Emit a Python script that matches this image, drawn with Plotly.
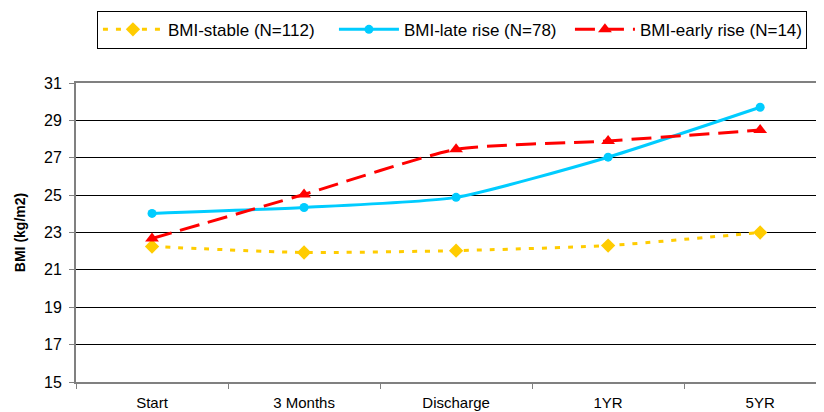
import plotly.graph_objects as go

categories = ["Start", "3 Months", "Discharge", "1YR", "5YR"]
stable = [22.25, 21.93, 22.03, 22.3, 23.0]
late_rise = [24.02, 24.34, 24.88, 27.03, 29.7]
early_rise = [22.68, 25.04, 27.45, 27.9, 28.48]
y_ticks = [15, 17, 19, 21, 23, 25, 27, 29, 31]

FONT = "Liberation Sans, Arial, sans-serif"

fig = go.Figure()
fig.add_trace(go.Scatter(
    x=categories, y=stable, name="BMI-stable (N=112)", mode="lines+markers",
    line=dict(color="#FFCC00", width=3, dash="5px,8px", shape="spline", smoothing=0.55),
    marker=dict(symbol="diamond", size=11, color="#FFCC00")))
fig.add_trace(go.Scatter(
    x=categories, y=late_rise, name="BMI-late rise (N=78)", mode="lines+markers",
    line=dict(color="#00CCFF", width=3, shape="spline", smoothing=0.55),
    marker=dict(symbol="circle", size=9, color="#00CCFF")))
fig.add_trace(go.Scatter(
    x=categories, y=early_rise, name="BMI-early rise (N=14)", mode="lines+markers",
    line=dict(color="#FF0000", width=3, dash="20px,9px", shape="spline", smoothing=0.55),
    marker=dict(symbol="triangle-up", size=12, color="#FF0000")))

# page body has an 8px margin, so the figure is sized and offset for it
fig.update_layout(
    width=816, height=404,
    margin=dict(l=68, r=0, t=75, b=30),
    paper_bgcolor="white", plot_bgcolor="white",
    font=dict(family=FONT, color="black"),
    legend=dict(
        orientation="h", x=0.028, y=1.2416, xanchor="left", yanchor="top",
        bordercolor="black", borderwidth=1, font=dict(size=17, family=FONT),
        itemwidth=60, tracegroupgap=0, entrywidth=161,
    ),
    xaxis=dict(
        type="category", range=[-0.5, 4.42], tickson="boundaries",
        ticks="outside", ticklen=5, tickcolor="#808080",
        showline=True, linecolor="#808080", linewidth=2, mirror=True,
        showgrid=False, tickfont=dict(size=15, family=FONT),
        ticklabelstandoff=6, automargin=False,
    ),
    yaxis=dict(
        range=[15, 31], tickvals=y_ticks, ticks="outside", ticklen=5,
        tickcolor="#808080", showline=True, linecolor="#808080", linewidth=2,
        showgrid=True, gridcolor="#000000", gridwidth=1, zeroline=False,
        tickfont=dict(size=16, family=FONT), automargin=False,
        ticklabelstandoff=4,
        title=dict(text="<b>BMI (kg/m2)</b>", font=dict(size=14, family=FONT), standoff=15),
    ),
)

fig.write_html("out.html")
